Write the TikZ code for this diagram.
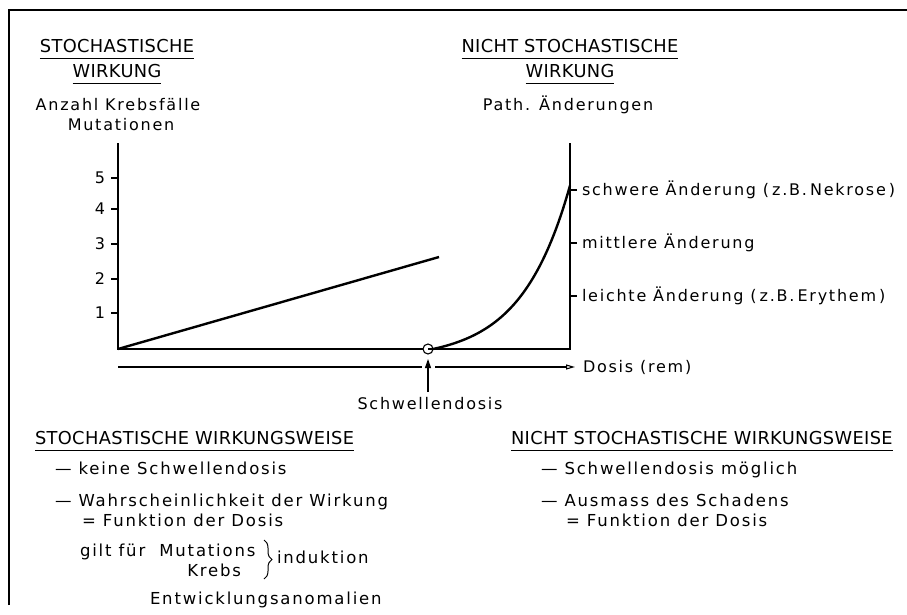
\documentclass[tikz,border=0pt]{standalone}
\usepackage{fontspec}
\setmainfont{DejaVu Sans}
\newfontfamily\bodyf[LetterSpace=11]{DejaVu Sans}
\newfontfamily\headf[LetterSpace=2]{DejaVu Sans}
\usetikzlibrary{arrows.meta,decorations.pathreplacing}
\newcommand{\gapsp}{\hspace{3pt}}
\begin{document}
\begin{tikzpicture}[x=1pt,y=-1pt,
  every node/.style={inner sep=0pt, outer sep=0pt},
  head/.style={font=\headf\fontsize{17.8}{20}\selectfont, anchor=base},
  txt/.style={font=\bodyf\fontsize{16.5}{19}\selectfont, anchor=base west},
  lab/.style={font=\bodyf\fontsize{16}{19}\selectfont},
  thin/.style={line width=1.1pt},
  curve/.style={line width=2.4pt},
  ul/.style={line width=1pt}]
\useasboundingbox (0,0) rectangle (907,615);
% frame
\draw[thin] (9,605) -- (9,10) -- (907,10);
% headings top left
\node[head] (h1) at (117,53) {STOCHASTISCHE};
\draw[ul] (h1.south west) ++(0,5) -- ([yshift=-5pt]h1.south east);
\node[head] (h2) at (117,78) {WIRKUNG};
\draw[ul] (h2.south west) ++(0,5) -- ([yshift=-5pt]h2.south east);
\node[lab, anchor=base] (yl1) at (118,111) {Anzahl Krebsfälle};
\node[lab, anchor=base] (yl2) at (121,131) {Mutationen};
% headings top right
\node[head] (h3) at (570,53) {NICHT STOCHASTISCHE};
\draw[ul] (h3.south west) ++(0,5) -- ([yshift=-5pt]h3.south east);
\node[head] (h4) at (570,78) {WIRKUNG};
\draw[ul] (h4.south west) ++(0,5) -- ([yshift=-5pt]h4.south east);
\node[lab, anchor=base] (yr) at (568,111) {Path. Änderungen};
% axes
\coordinate (o) at (118,349);
\coordinate (ltop) at (118,143);
\coordinate (rbot) at (570,349);
\coordinate (rtop) at (570,143);
\node[circle, draw, line width=1.1pt, minimum size=10pt] (thr) at (428,349) {};
\draw[thin] (ltop) -- (o) -- (thr.west);
\draw[thin] (thr.center) -- (rbot) -- (rtop);
% left ticks
\foreach \v/\y in {5/178,4/209,3/244,2/279,1/313}{
  \draw[thin] (111,\y) -- (118,\y);
  \node[lab, anchor=east] (t\v) at (105,\y) {\v};
}
% right ticks
\foreach \n/\y/\t in {s/190/{schwere Änderung (\gapsp z.B.\gapsp Nekrose\gapsp)},m/243/{mittlere Änderung},l/296/{leichte Änderung (\gapsp z.B.\gapsp Erythem\gapsp)}}{
  \draw[thin] (570,\y) -- (577,\y);
  \node[lab, anchor=west] (r\n) at (582,\y) {\t};
}
% curves
\coordinate (lend) at (439,257);
\draw[curve] (o) -- (lend);
\draw[curve] plot[domain=433:570, samples=60] (\x, {349 - 10.5*(exp(0.0205*(\x-433))-1)});
% dose axis
\coordinate (d0) at (118,367);
\coordinate (g1) at (422,367);
\coordinate (g2) at (435,367);
\node[lab, anchor=west] (dosis) at (583,367) {Dosis (rem)};
\draw[thin] (d0) -- (g1);
\draw[thin, -{Triangle[open, length=9pt, width=5pt]}] (g2) -- ([xshift=-8pt]dosis.west);
\coordinate (ab) at (428,392);
\draw[thin, -{Triangle[length=9pt, width=6pt]}] (ab) -- (428,359);
\node[lab, anchor=base] (schw) at (430,409) {Schwellendosis};
% lower left
\node[head, anchor=base west] (h5) at (35,444) {STOCHASTISCHE WIRKUNGSWEISE};
\draw[ul] (h5.south west) ++(0,6) -- ([yshift=-6pt]h5.south east);
\node[txt] (a1) at (55,474) {— keine Schwellendosis};
\node[txt] (a2) at (55,506) {— Wahrscheinlichkeit der Wirkung};
\node[txt] (a3) at (82,526) {= Funktion der Dosis};
\node[txt] (a4) at (80,556) {gilt für\ \ Mutations};
\node[txt, anchor=base east] (a5) at (241,576) {Krebs};
\draw[line width=1pt, decoration={brace, amplitude=8pt}, decorate] (264,540) -- (264,579);
\node[txt] (a6) at (277,563) {induktion};
\node[txt] (a7) at (150,604) {Entwicklungsanomalien};
% lower right
\node[head, anchor=base west] (h6) at (511,444) {NICHT STOCHASTISCHE WIRKUNGSWEISE};
\draw[ul] (h6.south west) ++(0,6) -- ([yshift=-6pt]h6.south east);
\node[txt] (b1) at (541,474) {— Schwellendosis möglich};
\node[txt] (b2) at (541,506) {— Ausmass des Schadens};
\node[txt] (b3) at (566,526) {= Funktion der Dosis};
\end{tikzpicture}
\end{document}
